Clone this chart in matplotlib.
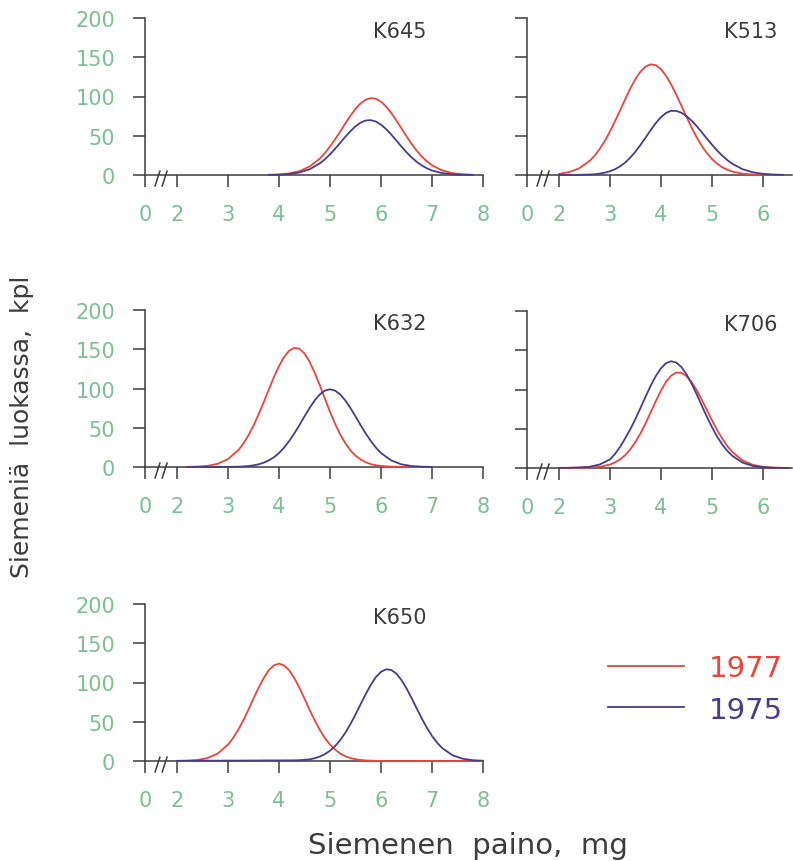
import matplotlib
matplotlib.use('Agg')
import matplotlib.pyplot as plt

# Data: seeds per weight class (kpl), 1977 vs 1975

clones = ['K645', 'K513', 'K632', 'K706', 'K650']
years = ['1977', '1975']

k645_x = [3.8, 4.0, 4.2, 4.4, 4.6, 4.8, 4.9, 5.0, 5.1, 5.2, 5.3, 5.4, 5.5, 5.6, 5.7, 5.8,
          5.9, 6.0, 6.1, 6.2, 6.3, 6.4, 6.5, 6.6, 6.7, 6.8, 6.9, 7.0, 7.2, 7.4, 7.6, 7.8]
k645_1977 = [0.2, 0.7, 2.0, 4.9, 10.8, 20.8, 27.9, 36.3, 45.4, 55.3, 65.6, 75.4, 84.2, 91.2, 95.9, 97.9,
             97.1, 93.4, 87.2, 79.1, 69.6, 59.5, 49.3, 39.7, 31.0, 23.5, 17.3, 12.4, 5.8, 2.4, 0.9, 0.3]
k645_1975 = [0.1, 0.4, 1.2, 3.2, 7.3, 14.8, 20.0, 26.3, 33.3, 41.0, 48.6, 55.8, 62.0, 66.7, 69.4, 69.9,
             68.1, 64.1, 58.5, 51.6, 44.0, 36.3, 29.0, 22.4, 16.8, 12.2, 8.5, 5.7, 2.4, 0.9, 0.3, 0.1]

k513_x = [2.0, 2.2, 2.4, 2.6, 2.7, 2.8, 2.9, 3.0, 3.1, 3.2, 3.3, 3.4, 3.5, 3.6, 3.7, 3.8, 3.9, 4.0, 4.1,
          4.2, 4.3, 4.4, 4.5, 4.6, 4.7, 4.8, 4.9, 5.0, 5.1, 5.2, 5.3, 5.4, 5.6, 5.8, 6.0, 6.2, 6.4]
k513_1977 = [1.4, 3.7, 8.6, 17.9, 24.7, 33.3, 43.5, 55.4, 68.7, 82.6, 96.8, 110.4, 122.3, 131.8, 138.2, 141.0, 139.8, 134.8, 126.4,
             115.3, 102.4, 88.4, 74.2, 60.6, 48.1, 37.2, 27.9, 20.4, 14.5, 10.0, 6.7, 4.4, 1.7, 0.6, 0.2, 0.1, 0.0]
k513_1975 = [0.0, 0.0, 0.2, 0.6, 1.0, 1.8, 3.0, 4.8, 7.4, 11.1, 16.0, 22.3, 29.8, 38.5, 47.8, 57.3, 66.2, 73.7, 79.1,
             81.8, 81.6, 79.3, 75.1, 69.3, 62.3, 54.5, 46.5, 38.7, 31.3, 24.8, 19.0, 14.3, 7.4, 3.5, 1.5, 0.6, 0.2]

k632_x = [2.2, 2.4, 2.6, 2.8, 3.0, 3.2, 3.3, 3.4, 3.5, 3.6, 3.7, 3.8, 3.9, 4.0, 4.1, 4.2, 4.3, 4.4, 4.5, 4.6,
          4.7, 4.8, 4.9, 5.0, 5.1, 5.2, 5.3, 5.4, 5.5, 5.6, 5.7, 5.8, 5.9, 6.0, 6.2, 6.4, 6.6, 6.8, 7.0]
k632_1977 = [0.1, 0.5, 1.5, 4.1, 10.0, 21.3, 29.7, 40.2, 52.7, 66.9, 82.5, 98.6, 114.4, 128.6, 140.1, 148.1, 151.8, 150.7, 144.6, 134.1,
             120.2, 104.1, 87.1, 70.4, 55.0, 41.5, 30.3, 21.3, 14.5, 9.6, 6.1, 3.7, 2.2, 1.3, 0.4, 0.1, 0.0, 0.0, 0.0]
k632_1975 = [0.0, 0.0, 0.0, 0.0, 0.1, 0.4, 0.7, 1.2, 2.1, 3.4, 5.5, 8.4, 12.4, 17.8, 24.7, 33.1, 42.7, 53.4, 64.5, 75.2,
             84.8, 92.5, 97.3, 99.0, 97.3, 92.5, 84.8, 75.2, 64.5, 53.4, 42.7, 33.1, 24.7, 17.8, 8.4, 3.4, 1.2, 0.4, 0.1]

k706_x = [2.0, 2.2, 2.4, 2.6, 2.8, 3.0, 3.1, 3.2, 3.3, 3.4, 3.5, 3.6, 3.7, 3.8, 3.9, 4.0, 4.1, 4.2,
          4.3, 4.4, 4.5, 4.6, 4.7, 4.8, 4.9, 5.0, 5.1, 5.2, 5.3, 5.4, 5.6, 5.8, 6.0, 6.2, 6.4, 6.5]
k706_1977 = [0.0, 0.0, 0.1, 0.5, 1.5, 4.4, 7.1, 11.1, 16.5, 23.8, 33.1, 44.3, 57.2, 71.1, 85.3, 98.5, 109.7, 117.7,
             121.6, 121.3, 117.1, 109.6, 99.2, 87.1, 74.0, 60.9, 48.6, 37.6, 28.1, 20.4, 9.7, 4.1, 1.5, 0.5, 0.2, 0.1]
k706_1975 = [0.1, 0.3, 0.8, 1.5, 4.5, 11.0, 18.0, 27.0, 38.0, 49.5, 62.6, 76.7, 91.1, 105.0, 117.3, 127.0, 133.5, 136.0,
             134.3, 128.7, 119.5, 107.6, 94.0, 79.6, 65.3, 52.1, 40.2, 30.1, 21.9, 15.4, 6.9, 2.7, 1.0, 0.3, 0.1, 0.0]

k650_x = [2.0, 2.2, 2.4, 2.6, 2.8, 3.0,
          3.1, 3.2, 3.3, 3.4, 3.5, 3.6, 3.7, 3.8, 3.9, 4.0, 4.1, 4.2, 4.3, 4.4, 4.5, 4.6, 4.7, 4.8, 4.9, 5.0,
          5.1, 5.2, 5.3, 5.4, 5.5, 5.6, 5.7, 5.8, 5.9, 6.0, 6.1, 6.2, 6.3, 6.4, 6.5, 6.6, 6.7, 6.8, 6.9, 7.0, 7.1,
          7.2, 7.4, 7.6, 7.8, 8.0]
k650_1977 = [0.1, 0.4, 1.3, 3.8, 9.5, 20.9,
             29.3, 39.7, 51.8, 65.3, 79.5, 93.3, 105.6, 115.5, 121.8, 124.0, 121.8, 115.5, 105.6, 93.3, 79.5, 65.3, 51.8, 39.7, 29.3, 20.9,
             14.4, 9.5, 6.1, 3.8, 2.3, 1.3, 0.7, 0.4, 0.2, 0.1, 0.0, 0.0, 0.0, 0.0, 0.0, 0.0, 0.0, 0.0, 0.0, 0.0, 0.0,
             0.0, 0.0, 0.0, 0.0, 0.0]
k650_1975 = [0.2, 0.3, 0.3, 0.4, 0.4, 0.5,
             0.5, 0.5, 0.5, 0.6, 0.6, 0.6, 0.7, 0.7, 0.7, 0.7, 0.8, 0.8, 0.9, 1.0, 1.5, 2.1, 3.5, 5.6, 8.7, 13.1,
             19.0, 26.5, 35.9, 46.9, 59.2, 72.3, 85.2, 97.1, 106.9, 113.6, 116.8, 116.0, 111.4, 103.2, 92.6, 80.1, 67.0, 54.2, 42.3, 31.9, 23.3,
             16.5, 7.4, 2.9, 1.0, 0.3]

y_ticks = [0, 50, 100, 150, 200]

# Style

RED = '#e8453c'
PURPLE = '#4b3b8a'
GREEN = '#7cbf95'
DARK = '#3c3c3c'

plt.rcParams['font.family'] = 'DejaVu Sans'

W, H = 793, 862
X0 = 2 - 32 / 51  # where the "0" tick sits, left of the axis break

fig = plt.figure(figsize=(W / 100, H / 100), dpi=100)

# (left px, right px, baseline px, x max, left column?)
layout = [
    (145, 483, 176, 8.0, True),
    (527, 792, 176, 6.57, False),
    (145, 483, 468, 8.0, True),
    (527, 792, 469, 6.57, False),
    (145, 483, 762, 8.0, True),
]
series = [
    (k645_x, k645_1977, k645_1975),
    (k513_x, k513_1977, k513_1975),
    (k632_x, k632_1977, k632_1975),
    (k706_x, k706_1977, k706_1975),
    (k650_x, k650_1977, k650_1975),
]

handles = None
for name, (left, right, base, xmax, left_col), (xs, y77, y75) in zip(clones, layout, series):
    ax = fig.add_axes([left / W, 1 - base / H, (right - left) / W, 157 / H])
    ax.set_xlim(X0, xmax)
    ax.set_ylim(0, 200)

    l77, = ax.plot(xs, y77, color=RED, lw=1.3, clip_on=False, zorder=3)
    l75, = ax.plot(xs, y75, color=PURPLE, lw=1.3, clip_on=False, zorder=3)
    handles = [l77, l75]

    top = int(xmax)
    ax.set_xticks([X0] + list(range(2, top + 1)))
    ax.set_xticklabels(['0'] + [str(v) for v in range(2, top + 1)])
    ax.set_yticks(y_ticks)
    if left_col:
        ax.set_yticklabels([str(v) for v in y_ticks])
    else:
        ax.set_yticklabels([])

    for s in ['top', 'right']:
        ax.spines[s].set_visible(False)
    for s in ['left', 'bottom']:
        ax.spines[s].set_color(DARK)
        ax.spines[s].set_linewidth(1.1)
    ax.tick_params(direction='out', length=8.6, width=1.1, color=DARK,
                   labelcolor=GREEN, labelsize=15)
    ax.tick_params(axis='x', pad=12)
    ax.tick_params(axis='y', pad=13)

    # axis break "//"
    for bx in (1.57, 1.71):
        ax.plot([bx, bx + 0.095], [-14, 5], color=DARK, lw=1.1, clip_on=False)

    ax.text(0.754 if left_col else 0.845, 0.92, name, transform=ax.transAxes,
            ha='center', va='center', fontsize=15, color=DARK)

fig.legend(handles, years, loc='center left', bbox_to_anchor=(608 / W, 1 - 690 / H),
           frameon=False, fontsize=21, handlelength=2.6, handletextpad=0.86,
           labelspacing=0.45, borderpad=0, borderaxespad=0, labelcolor='linecolor')

fig.text(22 / W, 1 - 427 / H, 'Siemeniä  luokassa,  kpl', rotation=90,
         ha='center', va='center', fontsize=18, color=DARK)
fig.text(468 / W, 1 - 846 / H, 'Siemenen  paino,  mg', ha='center', va='center',
         fontsize=21, color=DARK)

fig.savefig('out.png', dpi=100)
